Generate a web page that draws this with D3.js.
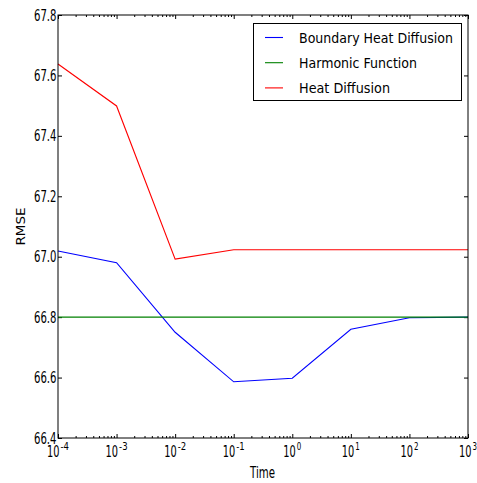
<!DOCTYPE html>
<html>
<head>
<meta charset="utf-8">
<script src="https://cdn.jsdelivr.net/npm/d3@7"></script>
<style>
  html, body { margin: 0; padding: 0; background: #fff; }
  svg { display: block; }
  text { font-family: "DejaVu Sans", sans-serif; fill: #000; }
</style>
</head>
<body>
<svg id="chart" width="477" height="483"></svg>
<script>
// ---- data ----
const times = [1e-4, 1e-3, 1e-2, 1e-1, 1, 10, 100, 1000];
const boundaryHeat = [67.019, 66.98, 66.75, 66.586, 66.598, 66.76, 66.798, 66.8];
const harmonic = [66.8, 66.8, 66.8, 66.8, 66.8, 66.8, 66.8, 66.8];
const heatDiffusion = [67.638, 67.499, 66.992, 67.023, 67.023, 67.023, 67.023, 67.023];
const seriesNames = ["Boundary Heat Diffusion", "Harmonic Function", "Heat Diffusion"];
const seriesColors = ["#0000ff", "#008000", "#ff0000"];
const xTickExps = [-4, -3, -2, -1, 0, 1, 2, 3];
const yTicks = [66.4, 66.6, 66.8, 67.0, 67.2, 67.4, 67.6, 67.8];

// ---- layout ----
const L = 58, R = 468, T = 15, B = 438;
const svg = d3.select("#chart");
const x = d3.scaleLog().domain([1e-4, 1e3]).range([L, R]);
const y = d3.scaleLinear().domain([66.4, 67.8]).range([B, T]);

const majorX = xTickExps.map(e => Math.pow(10, e));
const minorX = [];
for (let e = -4; e < 3; e++) for (let m = 2; m <= 9; m++) minorX.push(m * Math.pow(10, e));

function tickAxis(axisFn, scale, vals, size, tr) {
  const g = svg.append("g").attr("transform", tr)
    .call(axisFn(scale).tickValues(vals).tickSizeInner(-size).tickSizeOuter(0).tickFormat(""));
  g.select(".domain").remove();
  g.selectAll("line").attr("stroke", "#000").attr("stroke-width", 1);
  return g;
}
// bottom / top ticks
tickAxis(d3.axisBottom, x, majorX, 4, `translate(0,${B})`);
tickAxis(d3.axisBottom, x, minorX, 2, `translate(0,${B})`);
tickAxis(d3.axisTop, x, majorX, 4, `translate(0,${T})`);
tickAxis(d3.axisTop, x, minorX, 2, `translate(0,${T})`);
// left / right ticks
tickAxis(d3.axisLeft, y, yTicks, 4, `translate(${L},0)`);
tickAxis(d3.axisRight, y, yTicks, 4, `translate(${R},0)`);

// y tick labels
svg.append("g").selectAll("text").data(yTicks).join("text")
  .attr("x", L - 1.5).attr("y", d => y(d) + 5.5)
  .attr("text-anchor", "end")
  .attr("font-size", 15)
  .attr("textLength", 22.5).attr("lengthAdjust", "spacingAndGlyphs")
  .text(d => d.toFixed(1));

// x tick labels (10^e) as one text with a superscript tspan
const xl = svg.append("g");
xTickExps.forEach(e => {
  const cx = x(Math.pow(10, e));
  const supW = e < 0 ? 8.5 : 4.5;
  const baseW = 12.5;
  const start = cx - (baseW + supW + 1) / 2;
  const t = xl.append("text").attr("x", start).attr("y", 457).attr("font-size", 15);
  t.append("tspan").attr("textLength", baseW).attr("lengthAdjust", "spacingAndGlyphs").text("10");
  t.append("tspan").attr("x", start + baseW + 1).attr("dy", -7).attr("font-size", 10.5)
    .attr("textLength", supW).attr("lengthAdjust", "spacingAndGlyphs")
    .text(e < 0 ? "-" + (-e) : String(e));
});

// axis labels
svg.append("text").attr("x", 262.5).attr("y", 478).attr("text-anchor", "middle")
  .attr("font-size", 15).attr("textLength", 25).attr("lengthAdjust", "spacingAndGlyphs")
  .text("Time");
svg.append("text").attr("transform", `translate(25,${(T + B) / 2}) rotate(-90)`)
  .attr("text-anchor", "middle").attr("font-size", 11.5)
  .attr("textLength", 38).attr("lengthAdjust", "spacingAndGlyphs")
  .text("RMSE");

// lines
const seriesVals = [boundaryHeat, harmonic, heatDiffusion];
const line = d3.line().x(d => x(d[0])).y(d => y(d[1]));
const plot = svg.append("g");
seriesVals.forEach((vals, i) => {
  plot.append("path")
    .datum(times.map((t, j) => [t, vals[j]]))
    .attr("d", line)
    .attr("fill", "none")
    .attr("stroke", seriesColors[i])
    .attr("stroke-width", 1.1);
});

// frame
svg.append("rect").attr("x", L).attr("y", T).attr("width", R - L).attr("height", B - T)
  .attr("fill", "none").attr("stroke", "#000").attr("stroke-width", 1);

// legend
const lg = svg.append("g");
lg.append("rect").attr("x", 253.5).attr("y", 23.5).attr("width", 208).attr("height", 77)
  .attr("fill", "#fff").attr("stroke", "#000").attr("stroke-width", 1);
const legW = [154, 118, 91];
seriesNames.forEach((name, i) => {
  const ly = 37.5 + i * 25.2;
  lg.append("line").attr("x1", 265).attr("x2", 283).attr("y1", ly).attr("y2", ly)
    .attr("stroke", seriesColors[i]).attr("stroke-width", 1.1);
  lg.append("text").attr("x", 299).attr("y", ly + 5.2)
    .attr("font-size", 13.5).attr("textLength", legW[i]).attr("lengthAdjust", "spacingAndGlyphs")
    .text(name);
});
</script>
</body>
</html>
